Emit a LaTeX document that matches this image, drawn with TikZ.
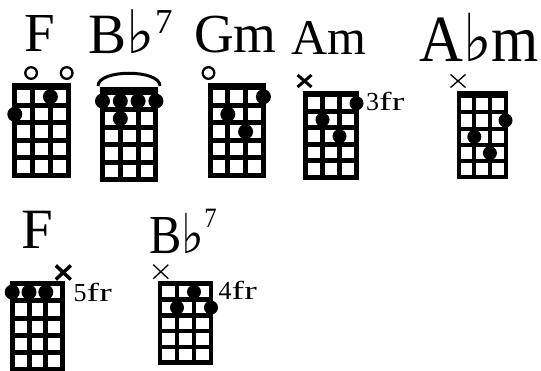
\documentclass[tikz,border=0pt]{standalone}
\usepackage{fontspec}
\usepackage{graphicx}
\setmainfont{Liberation Serif}
\newfontfamily\flatfont{DejaVu Sans}

% current grid: left string x, nut y, string spacing, fret spacing
\newcommand\setgrid[4]{\def\gxL{#1}\def\gyT{#2}\def\gs{#3}\def\gf{#4}}
% grid of 4 strings and 5 frets; #1 line width, #2 nut height above first line
\newcommand\drawgrid[2]{%
  \foreach \i in {0,...,3}
    \draw[line width=#1pt] ({\gxL+\i*\gs},{\gyT}) -- ({\gxL+\i*\gs},{\gyT+5*\gf});
  \foreach \k in {1,...,5}
    \draw[line width=#1pt] ({\gxL-#1/2},{\gyT+\k*\gf}) -- ({\gxL+3*\gs+#1/2},{\gyT+\k*\gf});
  \fill ({\gxL-#1/2},{\gyT-#2}) rectangle ({\gxL+3*\gs+#1/2},{\gyT+#1/2});
}
% finger dot on string #2 at fret #3
\newcommand\finger[3][7.5]{\fill ({\gxL+(#2-1)*\gs},{\gyT+(#3-0.5)*\gf}) circle[radius=#1pt];}
% open string ring
\newcommand\openstring[1]{\draw[line width=2.3pt] ({\gxL+(#1-1)*\gs-1.5},{\gyT-15}) circle[radius=5.8pt];}
% muted string cross: centre x, y, half width, half height, line width
\newcommand\mutemark[5]{\draw[line width=#5pt] ({#1-#3},{#2-#4}) -- ({#1+#3},{#2+#4}) ({#1-#3},{#2+#4}) -- ({#1+#3},{#2-#4});}
% fret position label: digit followed by a wide "fr"
\newcommand\fretpos[1]{\fontsize{26}{28}\selectfont #1\scalebox{1.45}[1]{fr}}

\tikzset{
  chordname/.style={anchor=base west, inner sep=0pt},
  fretlabel/.style={anchor=base west, inner sep=0pt},
}

\begin{document}
\begin{tikzpicture}
\begin{scope}[x=1pt,y=-1pt]
\useasboundingbox (0,0) rectangle (541,371);

% ---- chord names
\node[chordname] (nameF) at (24,51.7) {\fontsize{55}{60}\selectfont F};
\node[chordname] (nameBb) at (88.5,53.3) {\fontsize{57}{60}\selectfont B{\flatfont\fontsize{60}{60}\selectfont ♭}\raisebox{20pt}{\fontsize{35}{36}\selectfont 7}};
\node[chordname] (nameGm) at (194,52.5) {\fontsize{55}{60}\selectfont Gm};
\node[chordname] (nameAm) at (291,55) {\fontsize{50}{54}\selectfont Am};
\node[chordname] (nameAbm) at (419,61.7) {\scalebox{0.92}[1]{\fontsize{66}{68}\selectfont A{\flatfont ♭}m}};
\node[chordname] (nameFlow) at (21,248.3) {\fontsize{57}{60}\selectfont F};
\node[chordname] (nameBblow) at (149,253.3) {\scalebox{0.88}[1]{\fontsize{55}{60}\selectfont B{\flatfont\fontsize{55}{60}\selectfont ♭}\raisebox{26pt}{\fontsize{28}{30}\selectfont 7}}};

% ---- F (open)
\setgrid{14.8}{88}{17.8}{17.5}
\drawgrid{5}{5.3}
\openstring{2}\openstring{4}
\finger{3}{1}\finger{1}{2}

% ---- Bb7 with barre
\setgrid{102.5}{92.3}{17.8}{17.5}
\drawgrid{5}{5.3}
\draw[line width=3pt] (98,86) .. controls (98,69) and (160,69) .. (160,86);
\finger{1}{1}\finger{2}{1}\finger{3}{1}\finger{4}{1}\finger{2}{2}

% ---- Gm
\setgrid{210}{88}{17.8}{17.5}
\drawgrid{5}{5.3}
\openstring{1}
\finger{4}{1}\finger{2}{2}\finger{3}{3}

% ---- Am, 3rd fret
\setgrid{305.5}{95}{17}{16.5}
\drawgrid{5}{4}
\mutemark{304.5}{81}{7}{6}{3}
\finger[7]{4}{1}\finger[7]{2}{2}\finger[7]{3}{3}
\node[fretlabel] (fretAm) at (366,110.7) {\fretpos{3}};

% ---- Abm
\setgrid{458.7}{96}{15.6}{16.3}
\drawgrid{4}{4.5}
\mutemark{458}{81}{7.5}{6.5}{1.3}
\finger[7]{4}{2}\finger[7]{2}{3}\finger[7]{3}{4}

% ---- F, 5th fret barre
\setgrid{12.2}{283.5}{16.8}{17.3}
\drawgrid{5}{2.5}
\mutemark{63.3}{272.5}{7.5}{7}{3.5}
\finger{1}{1}\finger{2}{1}\finger{3}{1}
\node[fretlabel] (fretF) at (73.5,301.7) {\fretpos{5}};

% ---- Bb7, 4th fret
\setgrid{160}{284}{17}{15.7}
\drawgrid{4.5}{3}
\mutemark{160.8}{271.7}{7.5}{7}{1.3}
\finger[7]{3}{1}\finger[7]{2}{2}\finger[7]{4}{2}
\node[fretlabel] (fretBb) at (218.5,300) {\fretpos{4}};
\end{scope}
\end{tikzpicture}
\end{document}
